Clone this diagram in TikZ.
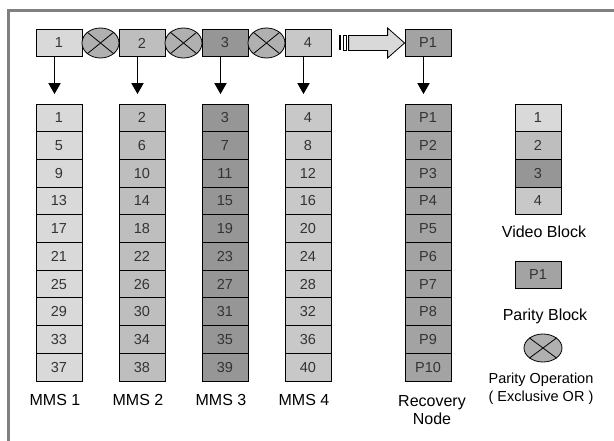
\documentclass[tikz,border=0pt]{standalone}
\usepackage{fontspec}
\setmainfont{Liberation Sans}
\usepackage{tikz}
\usetikzlibrary{arrows.meta,calc,positioning,shapes.geometric}
\usepackage{xcolor}
\definecolor{blkA}{RGB}{217,217,217}
\definecolor{blkB}{RGB}{190,190,190}
\definecolor{blkC}{RGB}{150,150,150}
\definecolor{blkD}{RGB}{200,200,200}
\definecolor{blkP}{RGB}{163,163,163}
\definecolor{xorfill}{RGB}{176,176,176}
\definecolor{numtext}{RGB}{51,51,51}
\definecolor{framegray}{RGB}{128,128,128}

\begin{document}
\begin{tikzpicture}[x=1pt,y=-1pt,
  blk/.style={draw=black,line width=0.8pt,minimum width=46pt,minimum height=27.7pt,
    inner sep=0pt,text=numtext,font=\fontsize{14.5}{15}\selectfont},
  xor/.style={ellipse,draw=black,line width=0.8pt,fill=xorfill,
    minimum width=37pt,minimum height=30pt,inner sep=0pt},
  lbl/.style={font=\fontsize{16}{18}\selectfont,align=center},
  dnarrow/.style={line width=1.8pt,-{Triangle[width=12pt,length=11pt]},shorten >=9.5pt}]
  \useasboundingbox (0,0) rectangle (614,441);
  % frame (only top and left edges show)
  \draw[framegray,line width=3pt] (8.5,441) -- (8.5,10.5) -- (614,10.5);
  % top row: one block per MMS and the parity block
  \foreach \c/\col in {1/blkA,2/blkB,3/blkC,4/blkD}
    \node[blk,fill=\col] (t\c) at ({59+83*(\c-1)},43) {\c};
  \node[blk,fill=blkP] (tp) at (428,43) {P1};
  % xor between neighbouring blocks
  \foreach \a/\b in {1/2,2/3,3/4} {
    \node[xor] (x\a) at ($(t\a.east)!0.5!(t\b.west)$) {};
    \draw[line width=0.8pt] (x\a.north west) -- (x\a.south east) (x\a.north east) -- (x\a.south west);
  }
  % hollow arrow into the parity block
  \fill ($(tp.west)+(-66,-7.5)$) rectangle ($(tp.west)+(-63.5,7.5)$);
  \draw[fill=white,line width=0.8pt] ($(tp.west)+(-61.5,-7.5)$) rectangle ($(tp.west)+(-58,7.5)$);
  \draw[fill=blkA,line width=0.8pt] ($(tp.west)+(-56,-7.5)$) -- ($(tp.west)+(-17,-7.5)$)
    -- ($(tp.west)+(-17,-15)$) -- (tp.west) -- ($(tp.west)+(-17,15)$)
    -- ($(tp.west)+(-17,7.5)$) -- ($(tp.west)+(-56,7.5)$) -- cycle;
  % MMS columns
  \foreach \c/\col in {1/blkA,2/blkB,3/blkC,4/blkD} {
    \foreach \r in {0,...,9} {
      \pgfmathtruncatemacro\v{4*\r+\c}
      \node[blk,fill=\col] (m\c-\r) at ({59+83*(\c-1)},{117.85+27.7*\r}) {\v};
    }
    \draw[dnarrow] ([xshift=-4.5pt]t\c.south) -- ([xshift=-4.5pt]m\c-0.north);
    \node[lbl] (n\c) at ({55+83*(\c-1)},400) {MMS \c};
  }
  % recovery node column
  \foreach \r in {0,...,9} {
    \pgfmathtruncatemacro\v{\r+1}
    \node[blk,fill=blkP] (rp-\r) at (428,{117.85+27.7*\r}) {P\v};
  }
  \draw[dnarrow] ([xshift=-4.5pt]tp.south) -- ([xshift=-4.5pt]rp-0.north);
  \node[lbl] (rn) at (432,410) {Recovery\\Node};
  % legend
  \foreach \c/\col in {1/blkA,2/blkB,3/blkC,4/blkD}
    \node[blk,fill=\col] (v\c) at (538,{117.85+27.7*(\c-1)}) {\c};
  \node[lbl] (vl) at (544,232) {Video Block};
  \node[blk,fill=blkP] (pb) at (538,275) {P1};
  \node[lbl] (pl) at (545,316) {Parity Block};
  \node[xor,minimum width=38pt,minimum height=28pt] (px) at (543,348) {};
  \draw[line width=0.8pt] (px.north west) -- (px.south east) (px.north east) -- (px.south west);
  \node[lbl,font=\fontsize{14.5}{18}\selectfont] (po) at (541,389) {Parity Operation\\( Exclusive OR )};
\end{tikzpicture}
\end{document}
